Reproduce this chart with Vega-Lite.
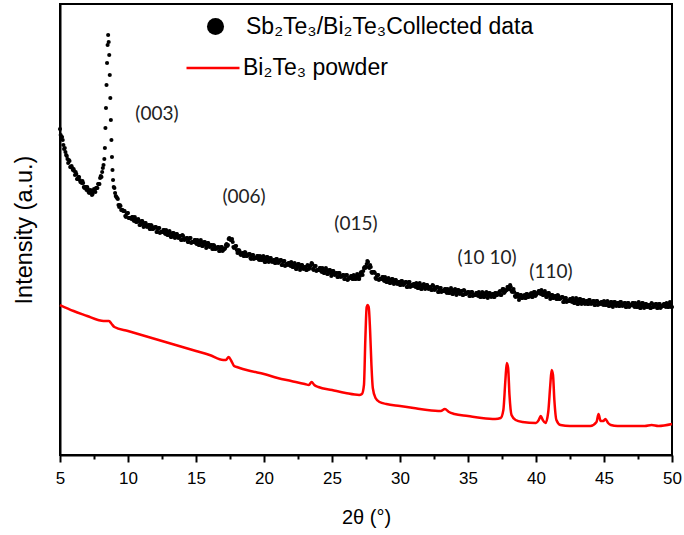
{
"$schema":"https://vega.github.io/schema/vega-lite/v6.json",
"width":612,"height":451,
"autosize":{"type":"none"},
"padding":{"left":60,"top":4,"right":12,"bottom":80},
"background":"white",
"config":{"view":{"stroke":"black","strokeWidth":2},"legend":{"padding":0,"offset":0,"labelLimit":600}},
"datasets":{
"xrd":[
{"x":5.0,"y":326},{"x":5.1,"y":318},{"x":5.2,"y":315},{"x":5.3,"y":306},{"x":5.4,"y":303},{"x":5.5,"y":299},{"x":5.6,"y":292},{"x":5.7,"y":294},{"x":5.8,"y":288},{"x":5.9,"y":287},
{"x":6.0,"y":286},{"x":6.1,"y":280},{"x":6.2,"y":281},{"x":6.3,"y":276},{"x":6.4,"y":278},{"x":6.5,"y":273},{"x":6.6,"y":272},{"x":6.7,"y":272},{"x":6.8,"y":267},{"x":6.9,"y":268},
{"x":7.0,"y":268},{"x":7.1,"y":263},{"x":7.2,"y":263},{"x":7.3,"y":264},{"x":7.4,"y":261},{"x":7.5,"y":266},{"x":7.6,"y":263},{"x":7.7,"y":267},{"x":7.8,"y":271},{"x":7.9,"y":271},
{"x":8.0,"y":279},{"x":8.1,"y":283},{"x":8.2,"y":290},{"x":8.26,"y":296},{"x":8.30,"y":307},{"x":8.34,"y":327},{"x":8.38,"y":347},{"x":8.42,"y":370},{"x":8.46,"y":392},{"x":8.50,"y":410},
{"x":8.54,"y":420},{"x":8.58,"y":413},{"x":8.62,"y":400},{"x":8.66,"y":380},{"x":8.70,"y":357},{"x":8.74,"y":335},{"x":8.78,"y":315},{"x":8.82,"y":298},{"x":8.86,"y":285},{"x":8.90,"y":275},{"x":8.95,"y":268},
{"x":9.0,"y":267},{"x":9.1,"y":259},{"x":9.2,"y":257},{"x":9.3,"y":250},{"x":9.4,"y":250},{"x":9.5,"y":245},{"x":9.6,"y":245},{"x":9.7,"y":244},{"x":9.8,"y":239},{"x":9.9,"y":241},
{"x":10.0,"y":242},{"x":10.1,"y":237},{"x":10.2,"y":237},{"x":10.3,"y":238},{"x":10.4,"y":235},{"x":10.5,"y":238},{"x":10.6,"y":233},{"x":10.7,"y":234},{"x":10.8,"y":234},{"x":10.9,"y":230},
{"x":11.0,"y":234},{"x":11.1,"y":231},{"x":11.2,"y":231},{"x":11.3,"y":232},{"x":11.4,"y":228},{"x":11.5,"y":230},{"x":11.6,"y":226},{"x":11.7,"y":230},{"x":11.8,"y":226},{"x":11.9,"y":227},
{"x":12.0,"y":228},{"x":12.1,"y":223},{"x":12.2,"y":226},{"x":12.3,"y":227},{"x":12.4,"y":223},{"x":12.5,"y":223},{"x":12.6,"y":225},{"x":12.7,"y":222},{"x":12.8,"y":225},{"x":12.9,"y":220},
{"x":13.0,"y":222},{"x":13.1,"y":222},{"x":13.2,"y":218},{"x":13.3,"y":222},{"x":13.4,"y":219},{"x":13.5,"y":220},{"x":13.6,"y":221},{"x":13.7,"y":217},{"x":13.8,"y":219},{"x":13.9,"y":215},
{"x":14.0,"y":220},{"x":14.1,"y":216},{"x":14.2,"y":216},{"x":14.3,"y":217},{"x":14.4,"y":213},{"x":14.5,"y":216},{"x":14.6,"y":217},{"x":14.7,"y":213},{"x":14.8,"y":213},{"x":14.9,"y":215},
{"x":15.0,"y":212},{"x":15.1,"y":215},{"x":15.2,"y":210},{"x":15.3,"y":212},{"x":15.4,"y":213},{"x":15.5,"y":209},{"x":15.6,"y":213},{"x":15.7,"y":210},{"x":15.8,"y":210},{"x":15.9,"y":212},
{"x":16.0,"y":208},{"x":16.1,"y":210},{"x":16.2,"y":206},{"x":16.3,"y":210},{"x":16.4,"y":206},{"x":16.5,"y":207},{"x":16.6,"y":208},{"x":16.7,"y":204},{"x":16.8,"y":207},{"x":16.9,"y":208},
{"x":17.0,"y":205},{"x":17.1,"y":206},{"x":17.2,"y":210},{"x":17.3,"y":209},{"x":17.4,"y":216},{"x":17.5,"y":216},{"x":17.6,"y":215},{"x":17.7,"y":213},{"x":17.8,"y":207},{"x":17.9,"y":209},
{"x":18.0,"y":205},{"x":18.1,"y":204},{"x":18.2,"y":204},{"x":18.3,"y":200},{"x":18.4,"y":202},{"x":18.5,"y":199},{"x":18.6,"y":203},{"x":18.7,"y":199},{"x":18.8,"y":200},{"x":18.9,"y":201},
{"x":19.0,"y":197},{"x":19.1,"y":199},{"x":19.2,"y":200},{"x":19.3,"y":197},{"x":19.4,"y":197},{"x":19.5,"y":199},{"x":19.6,"y":196},{"x":19.7,"y":199},{"x":19.8,"y":195},{"x":19.9,"y":196},
{"x":20.0,"y":197},{"x":20.1,"y":193},{"x":20.2,"y":198},{"x":20.3,"y":195},{"x":20.4,"y":196},{"x":20.5,"y":197},{"x":20.6,"y":193},{"x":20.7,"y":195},{"x":20.8,"y":192},{"x":20.9,"y":196},
{"x":21.0,"y":193},{"x":21.1,"y":193},{"x":21.2,"y":195},{"x":21.3,"y":190},{"x":21.4,"y":193},{"x":21.5,"y":194},{"x":21.6,"y":190},{"x":21.7,"y":191},{"x":21.8,"y":192},{"x":21.9,"y":190},
{"x":22.0,"y":193},{"x":22.1,"y":188},{"x":22.2,"y":190},{"x":22.3,"y":190},{"x":22.4,"y":186},{"x":22.5,"y":191},{"x":22.6,"y":188},{"x":22.7,"y":188},{"x":22.8,"y":190},{"x":22.9,"y":186},
{"x":23.0,"y":188},{"x":23.1,"y":185},{"x":23.2,"y":190},{"x":23.3,"y":186},{"x":23.4,"y":189},{"x":23.5,"y":192},{"x":23.6,"y":186},{"x":23.7,"y":188},{"x":23.8,"y":189},{"x":23.9,"y":185},
{"x":24.0,"y":185},{"x":24.1,"y":187},{"x":24.2,"y":184},{"x":24.3,"y":187},{"x":24.4,"y":182},{"x":24.5,"y":184},{"x":24.6,"y":185},{"x":24.7,"y":181},{"x":24.8,"y":185},{"x":24.9,"y":182},
{"x":25.0,"y":182},{"x":25.1,"y":184},{"x":25.2,"y":180},{"x":25.3,"y":182},{"x":25.4,"y":178},{"x":25.5,"y":182},{"x":25.6,"y":179},{"x":25.7,"y":179},{"x":25.8,"y":180},{"x":25.9,"y":176},
{"x":26.0,"y":179},{"x":26.1,"y":180},{"x":26.2,"y":176},{"x":26.3,"y":177},{"x":26.4,"y":179},{"x":26.5,"y":176},{"x":26.6,"y":180},{"x":26.7,"y":176},{"x":26.8,"y":178},{"x":26.9,"y":179},
{"x":27.0,"y":176},{"x":27.1,"y":182},{"x":27.2,"y":181},{"x":27.3,"y":184},{"x":27.4,"y":188},{"x":27.5,"y":188},{"x":27.6,"y":194},{"x":27.7,"y":188},{"x":27.8,"y":190},{"x":27.9,"y":183},
{"x":28.0,"y":183},{"x":28.1,"y":183},{"x":28.2,"y":177},{"x":28.3,"y":179},{"x":28.4,"y":180},{"x":28.5,"y":176},{"x":28.6,"y":176},{"x":28.7,"y":178},{"x":28.8,"y":175},{"x":28.9,"y":178},
{"x":29.0,"y":173},{"x":29.1,"y":175},{"x":29.2,"y":175},{"x":29.3,"y":172},{"x":29.4,"y":176},{"x":29.5,"y":173},{"x":29.6,"y":174},{"x":29.7,"y":175},{"x":29.8,"y":171},{"x":29.9,"y":173},
{"x":30.0,"y":170},{"x":30.1,"y":174},{"x":30.2,"y":171},{"x":30.3,"y":171},{"x":30.4,"y":173},{"x":30.5,"y":168},{"x":30.6,"y":171},{"x":30.7,"y":173},{"x":30.8,"y":169},{"x":30.9,"y":170},
{"x":31.0,"y":171},{"x":31.1,"y":169},{"x":31.2,"y":172},{"x":31.3,"y":167},{"x":31.4,"y":169},{"x":31.5,"y":170},{"x":31.6,"y":166},{"x":31.7,"y":170},{"x":31.8,"y":168},{"x":31.9,"y":169},
{"x":32.0,"y":170},{"x":32.1,"y":166},{"x":32.2,"y":168},{"x":32.3,"y":165},{"x":32.4,"y":170},{"x":32.5,"y":166},{"x":32.6,"y":166},{"x":32.7,"y":168},{"x":32.8,"y":163},{"x":32.9,"y":166},
{"x":33.0,"y":167},{"x":33.1,"y":164},{"x":33.2,"y":164},{"x":33.3,"y":166},{"x":33.4,"y":163},{"x":33.5,"y":166},{"x":33.6,"y":162},{"x":33.7,"y":164},{"x":33.8,"y":165},{"x":33.9,"y":161},
{"x":34.0,"y":165},{"x":34.1,"y":163},{"x":34.2,"y":163},{"x":34.3,"y":165},{"x":34.4,"y":161},{"x":34.5,"y":164},{"x":34.6,"y":160},{"x":34.7,"y":165},{"x":34.8,"y":161},{"x":34.9,"y":162},
{"x":35.0,"y":163},{"x":35.1,"y":159},{"x":35.2,"y":162},{"x":35.3,"y":163},{"x":35.4,"y":160},{"x":35.5,"y":160},{"x":35.6,"y":162},{"x":35.7,"y":160},{"x":35.8,"y":163},{"x":35.9,"y":158},
{"x":36.0,"y":160},{"x":36.1,"y":161},{"x":36.2,"y":158},{"x":36.3,"y":162},{"x":36.4,"y":160},{"x":36.5,"y":160},{"x":36.6,"y":162},{"x":36.7,"y":158},{"x":36.8,"y":161},{"x":36.9,"y":158},
{"x":37.0,"y":162},{"x":37.1,"y":160},{"x":37.2,"y":161},{"x":37.3,"y":163},{"x":37.4,"y":160},{"x":37.5,"y":164},{"x":37.6,"y":166},{"x":37.7,"y":163},{"x":37.8,"y":165},{"x":37.9,"y":168},
{"x":38.0,"y":166},{"x":38.1,"y":170},{"x":38.2,"y":164},{"x":38.3,"y":164},{"x":38.4,"y":163},{"x":38.5,"y":158},{"x":38.6,"y":161},{"x":38.7,"y":158},{"x":38.8,"y":158},{"x":38.9,"y":160},
{"x":39.0,"y":157},{"x":39.1,"y":159},{"x":39.2,"y":157},{"x":39.3,"y":161},{"x":39.4,"y":158},{"x":39.5,"y":159},{"x":39.6,"y":161},{"x":39.7,"y":158},{"x":39.8,"y":161},{"x":39.9,"y":163},
{"x":40.0,"y":160},{"x":40.1,"y":162},{"x":40.2,"y":164},{"x":40.3,"y":162},{"x":40.4,"y":165},{"x":40.5,"y":160},{"x":40.6,"y":161},{"x":40.7,"y":162},{"x":40.8,"y":158},{"x":40.9,"y":162},
{"x":41.0,"y":159},{"x":41.1,"y":159},{"x":41.2,"y":160},{"x":41.3,"y":157},{"x":41.4,"y":159},{"x":41.5,"y":156},{"x":41.6,"y":160},{"x":41.7,"y":156},{"x":41.8,"y":157},{"x":41.9,"y":158},
{"x":42.0,"y":153},{"x":42.1,"y":156},{"x":42.2,"y":157},{"x":42.3,"y":154},{"x":42.4,"y":154},{"x":42.5,"y":156},{"x":42.6,"y":154},{"x":42.7,"y":157},{"x":42.8,"y":152},{"x":42.9,"y":154},
{"x":43.0,"y":155},{"x":43.1,"y":151},{"x":43.2,"y":156},{"x":43.3,"y":153},{"x":43.4,"y":154},{"x":43.5,"y":155},{"x":43.6,"y":151},{"x":43.7,"y":154},{"x":43.8,"y":151},{"x":43.9,"y":155},
{"x":44.0,"y":152},{"x":44.1,"y":152},{"x":44.2,"y":154},{"x":44.3,"y":150},{"x":44.4,"y":153},{"x":44.5,"y":154},{"x":44.6,"y":151},{"x":44.7,"y":152},{"x":44.8,"y":153},{"x":44.9,"y":151},
{"x":45.0,"y":154},{"x":45.1,"y":150},{"x":45.2,"y":151},{"x":45.3,"y":152},{"x":45.4,"y":149},{"x":45.5,"y":153},{"x":45.6,"y":150},{"x":45.7,"y":151},{"x":45.8,"y":153},{"x":45.9,"y":149},
{"x":46.0,"y":152},{"x":46.1,"y":149},{"x":46.2,"y":153},{"x":46.3,"y":150},{"x":46.4,"y":150},{"x":46.5,"y":152},{"x":46.6,"y":148},{"x":46.7,"y":151},{"x":46.8,"y":152},{"x":46.9,"y":149},
{"x":47.0,"y":150},{"x":47.1,"y":152},{"x":47.2,"y":149},{"x":47.3,"y":152},{"x":47.4,"y":148},{"x":47.5,"y":150},{"x":47.6,"y":151},{"x":47.7,"y":147},{"x":47.8,"y":152},{"x":47.9,"y":149},
{"x":48.0,"y":150},{"x":48.1,"y":151},{"x":48.2,"y":148},{"x":48.3,"y":150},{"x":48.4,"y":147},{"x":48.5,"y":152},{"x":48.6,"y":148},{"x":48.7,"y":149},{"x":48.8,"y":151},{"x":48.9,"y":147},
{"x":49.0,"y":150},{"x":49.1,"y":151},{"x":49.2,"y":148},{"x":49.3,"y":149},{"x":49.4,"y":151},{"x":49.5,"y":149},{"x":49.6,"y":152},{"x":49.7,"y":148},{"x":49.8,"y":150},{"x":49.9,"y":151},
{"x":50.0,"y":148},
{"x":5.05,"y":320},{"x":5.15,"y":318},{"x":5.25,"y":310},{"x":5.35,"y":307},{"x":5.45,"y":300},{"x":5.55,"y":296},{"x":5.65,"y":295},{"x":5.75,"y":288},{"x":5.85,"y":289},{"x":5.95,"y":285},
{"x":6.05,"y":284},{"x":6.15,"y":283},{"x":6.25,"y":276},{"x":6.35,"y":278},{"x":6.45,"y":275},{"x":6.55,"y":273},{"x":6.65,"y":274},{"x":6.75,"y":268},{"x":6.85,"y":268},{"x":6.95,"y":265},
{"x":7.05,"y":266},{"x":7.15,"y":262},{"x":7.25,"y":265},{"x":7.35,"y":260},{"x":7.45,"y":264},{"x":7.55,"y":264},{"x":7.65,"y":267},{"x":7.75,"y":267},{"x":7.85,"y":271},{"x":7.95,"y":277},
{"x":8.05,"y":278},{"x":8.15,"y":287},
{"x":9.05,"y":262},{"x":9.15,"y":258},{"x":9.25,"y":256},{"x":9.35,"y":248},{"x":9.45,"y":249},{"x":9.55,"y":245},{"x":9.65,"y":244},{"x":9.75,"y":244},{"x":9.85,"y":238},{"x":9.95,"y":242},
{"x":10.05,"y":237},{"x":10.15,"y":237},{"x":10.25,"y":236},{"x":10.35,"y":238},{"x":10.45,"y":234},{"x":10.55,"y":236},{"x":10.65,"y":233},{"x":10.75,"y":236},{"x":10.85,"y":230},{"x":10.95,"y":232},
{"x":11.05,"y":234},{"x":11.15,"y":228},{"x":11.25,"y":232},{"x":11.35,"y":229},{"x":11.45,"y":229},{"x":11.55,"y":230},{"x":11.65,"y":226},{"x":11.75,"y":229},{"x":11.85,"y":226},{"x":11.95,"y":227},
{"x":12.05,"y":228},{"x":12.15,"y":223},{"x":12.25,"y":227},{"x":12.35,"y":222},{"x":12.45,"y":223},{"x":12.55,"y":223},{"x":12.65,"y":225},{"x":12.75,"y":221},{"x":12.85,"y":223},{"x":12.95,"y":220},
{"x":13.05,"y":224},{"x":13.15,"y":218},{"x":13.25,"y":220},{"x":13.35,"y":222},{"x":13.45,"y":217},{"x":13.55,"y":221},{"x":13.65,"y":218},{"x":13.75,"y":218},{"x":13.85,"y":219},{"x":13.95,"y":215},
{"x":14.05,"y":219},{"x":14.15,"y":215},{"x":14.25,"y":216},{"x":14.35,"y":217},{"x":14.45,"y":213},{"x":14.55,"y":217},{"x":14.65,"y":212},{"x":14.75,"y":213},{"x":14.85,"y":213},{"x":14.95,"y":215},
{"x":15.05,"y":211},{"x":15.15,"y":213},{"x":15.25,"y":210},{"x":15.35,"y":215},{"x":15.45,"y":209},{"x":15.55,"y":211},{"x":15.65,"y":213},{"x":15.75,"y":207},{"x":15.85,"y":212},{"x":15.95,"y":209},
{"x":16.05,"y":209},{"x":16.15,"y":210},{"x":16.25,"y":206},{"x":16.35,"y":209},{"x":16.45,"y":206},{"x":16.55,"y":207},{"x":16.65,"y":208},{"x":16.75,"y":204},{"x":16.85,"y":208},{"x":16.95,"y":204},
{"x":17.05,"y":206},{"x":17.15,"y":207},{"x":17.25,"y":211},{"x":17.35,"y":210},{"x":17.45,"y":217},{"x":17.55,"y":215},{"x":17.65,"y":216},{"x":17.75,"y":208},{"x":17.85,"y":208},{"x":17.95,"y":209},
{"x":18.05,"y":202},{"x":18.15,"y":205},{"x":18.25,"y":201},{"x":18.35,"y":201},{"x":18.45,"y":202},{"x":18.55,"y":199},{"x":18.65,"y":202},{"x":18.75,"y":199},{"x":18.85,"y":200},{"x":18.95,"y":201},
{"x":19.05,"y":196},{"x":19.15,"y":200},{"x":19.25,"y":196},{"x":19.35,"y":197},{"x":19.45,"y":197},{"x":19.55,"y":199},{"x":19.65,"y":195},{"x":19.75,"y":198},{"x":19.85,"y":195},{"x":19.95,"y":199},
{"x":20.05,"y":193},{"x":20.15,"y":195},{"x":20.25,"y":198},{"x":20.35,"y":193},{"x":20.45,"y":197},{"x":20.55,"y":194},{"x":20.65,"y":194},{"x":20.75,"y":195},{"x":20.85,"y":192},{"x":20.95,"y":196},
{"x":21.05,"y":192},{"x":21.15,"y":194},{"x":21.25,"y":195},{"x":21.35,"y":190},{"x":21.45,"y":194},{"x":21.55,"y":189},{"x":21.65,"y":191},{"x":21.75,"y":190},{"x":21.85,"y":192},{"x":21.95,"y":189},
{"x":22.05,"y":191},{"x":22.15,"y":188},{"x":22.25,"y":192},{"x":22.35,"y":186},{"x":22.45,"y":188},{"x":22.55,"y":191},{"x":22.65,"y":185},{"x":22.75,"y":190},{"x":22.85,"y":187},{"x":22.95,"y":187},
{"x":23.05,"y":188},{"x":23.15,"y":185},{"x":23.25,"y":189},{"x":23.35,"y":187},{"x":23.45,"y":190},{"x":23.55,"y":191},{"x":23.65,"y":185},{"x":23.75,"y":189},{"x":23.85,"y":184},{"x":23.95,"y":185},
{"x":24.05,"y":185},{"x":24.15,"y":187},{"x":24.25,"y":183},{"x":24.35,"y":185},{"x":24.45,"y":182},{"x":24.55,"y":187},{"x":24.65,"y":181},{"x":24.75,"y":183},{"x":24.85,"y":185},{"x":24.95,"y":179},
{"x":25.05,"y":184},{"x":25.15,"y":181},{"x":25.25,"y":181},{"x":25.35,"y":182},{"x":25.45,"y":178},{"x":25.55,"y":182},{"x":25.65,"y":178},{"x":25.75,"y":179},{"x":25.85,"y":180},{"x":25.95,"y":176},
{"x":26.05,"y":180},{"x":26.15,"y":175},{"x":26.25,"y":177},{"x":26.35,"y":177},{"x":26.45,"y":179},{"x":26.55,"y":176},{"x":26.65,"y":179},{"x":26.75,"y":176},{"x":26.85,"y":181},{"x":26.95,"y":176},
{"x":27.05,"y":179},{"x":27.15,"y":183},{"x":27.25,"y":180},{"x":27.35,"y":187},{"x":27.45,"y":187},{"x":27.55,"y":191},{"x":27.65,"y":193},{"x":27.75,"y":187},{"x":27.85,"y":188},{"x":27.95,"y":182},
{"x":28.05,"y":183},{"x":28.15,"y":182},{"x":28.25,"y":176},{"x":28.35,"y":180},{"x":28.45,"y":175},{"x":28.55,"y":176},{"x":28.65,"y":176},{"x":28.75,"y":178},{"x":28.85,"y":174},{"x":28.95,"y":176},
{"x":29.05,"y":173},{"x":29.15,"y":177},{"x":29.25,"y":172},{"x":29.35,"y":174},{"x":29.45,"y":176},{"x":29.55,"y":171},{"x":29.65,"y":175},{"x":29.75,"y":172},{"x":29.85,"y":172},{"x":29.95,"y":173},
{"x":30.05,"y":170},{"x":30.15,"y":174},{"x":30.25,"y":170},{"x":30.35,"y":172},{"x":30.45,"y":173},{"x":30.55,"y":168},{"x":30.65,"y":173},{"x":30.75,"y":168},{"x":30.85,"y":170},{"x":30.95,"y":169},
{"x":31.05,"y":171},{"x":31.15,"y":168},{"x":31.25,"y":170},{"x":31.35,"y":167},{"x":31.45,"y":172},{"x":31.55,"y":166},{"x":31.65,"y":168},{"x":31.75,"y":171},{"x":31.85,"y":166},{"x":31.95,"y":170},
{"x":32.05,"y":167},{"x":32.15,"y":167},{"x":32.25,"y":168},{"x":32.35,"y":165},{"x":32.45,"y":169},{"x":32.55,"y":165},{"x":32.65,"y":167},{"x":32.75,"y":168},{"x":32.85,"y":163},{"x":32.95,"y":167},
{"x":33.05,"y":163},{"x":33.15,"y":164},{"x":33.25,"y":164},{"x":33.35,"y":166},{"x":33.45,"y":162},{"x":33.55,"y":165},{"x":33.65,"y":162},{"x":33.75,"y":167},{"x":33.85,"y":161},{"x":33.95,"y":163},
{"x":34.05,"y":166},{"x":34.15,"y":160},{"x":34.25,"y":165},{"x":34.35,"y":162},{"x":34.45,"y":163},{"x":34.55,"y":164},{"x":34.65,"y":160},{"x":34.75,"y":164},{"x":34.85,"y":161},{"x":34.95,"y":162},
{"x":35.05,"y":163},{"x":35.15,"y":159},{"x":35.25,"y":163},{"x":35.35,"y":159},{"x":35.45,"y":160},{"x":35.55,"y":160},{"x":35.65,"y":162},{"x":35.75,"y":159},{"x":35.85,"y":161},{"x":35.95,"y":158},
{"x":36.05,"y":163},{"x":36.15,"y":158},{"x":36.25,"y":160},{"x":36.35,"y":163},{"x":36.45,"y":157},{"x":36.55,"y":162},{"x":36.65,"y":159},{"x":36.75,"y":160},{"x":36.85,"y":161},{"x":36.95,"y":158},
{"x":37.05,"y":162},{"x":37.15,"y":160},{"x":37.25,"y":162},{"x":37.35,"y":164},{"x":37.45,"y":160},{"x":37.55,"y":166},{"x":37.65,"y":162},{"x":37.75,"y":164},{"x":37.85,"y":165},{"x":37.95,"y":168},
{"x":38.05,"y":166},{"x":38.15,"y":168},{"x":38.25,"y":163},{"x":38.35,"y":166},{"x":38.45,"y":159},{"x":38.55,"y":159},{"x":38.65,"y":161},{"x":38.75,"y":155},{"x":38.85,"y":160},{"x":38.95,"y":157},
{"x":39.05,"y":158},{"x":39.15,"y":160},{"x":39.25,"y":157},{"x":39.35,"y":161},{"x":39.45,"y":158},{"x":39.55,"y":160},{"x":39.65,"y":162},{"x":39.75,"y":158},{"x":39.85,"y":163},{"x":39.95,"y":159},
{"x":40.05,"y":161},{"x":40.15,"y":162},{"x":40.25,"y":164},{"x":40.35,"y":161},{"x":40.45,"y":163},{"x":40.55,"y":160},{"x":40.65,"y":164},{"x":40.75,"y":158},{"x":40.85,"y":160},{"x":40.95,"y":162},
{"x":41.05,"y":156},{"x":41.15,"y":160},{"x":41.25,"y":157},{"x":41.35,"y":158},{"x":41.45,"y":159},{"x":41.55,"y":156},{"x":41.65,"y":159},{"x":41.75,"y":156},{"x":41.85,"y":157},{"x":41.95,"y":158},
{"x":42.05,"y":153},{"x":42.15,"y":157},{"x":42.25,"y":153},{"x":42.35,"y":154},{"x":42.45,"y":154},{"x":42.55,"y":156},{"x":42.65,"y":153},{"x":42.75,"y":155},{"x":42.85,"y":152},{"x":42.95,"y":157},
{"x":43.05,"y":151},{"x":43.15,"y":153},{"x":43.25,"y":156},{"x":43.35,"y":151},{"x":43.45,"y":155},{"x":43.55,"y":152},{"x":43.65,"y":153},{"x":43.75,"y":154},{"x":43.85,"y":151},{"x":43.95,"y":155},
{"x":44.05,"y":151},{"x":44.15,"y":153},{"x":44.25,"y":154},{"x":44.35,"y":150},{"x":44.45,"y":154},{"x":44.55,"y":150},{"x":44.65,"y":152},{"x":44.75,"y":151},{"x":44.85,"y":153},{"x":44.95,"y":150},
{"x":45.05,"y":153},{"x":45.15,"y":150},{"x":45.25,"y":154},{"x":45.35,"y":149},{"x":45.45,"y":151},{"x":45.55,"y":153},{"x":45.65,"y":148},{"x":45.75,"y":153},{"x":45.85,"y":150},{"x":45.95,"y":151},
{"x":46.05,"y":152},{"x":46.15,"y":149},{"x":46.25,"y":153},{"x":46.35,"y":149},{"x":46.45,"y":151},{"x":46.55,"y":152},{"x":46.65,"y":148},{"x":46.75,"y":152},{"x":46.85,"y":148},{"x":46.95,"y":150},
{"x":47.05,"y":150},{"x":47.15,"y":152},{"x":47.25,"y":148},{"x":47.35,"y":151},{"x":47.45,"y":148},{"x":47.55,"y":153},{"x":47.65,"y":147},{"x":47.75,"y":149},{"x":47.85,"y":152},{"x":47.95,"y":147},
{"x":48.05,"y":151},{"x":48.15,"y":148},{"x":48.25,"y":149},{"x":48.35,"y":150},{"x":48.45,"y":147},{"x":48.55,"y":151},{"x":48.65,"y":148},{"x":48.75,"y":150},{"x":48.85,"y":151},{"x":48.95,"y":147},
{"x":49.05,"y":151},{"x":49.15,"y":147},{"x":49.25,"y":149},{"x":49.35,"y":149},{"x":49.45,"y":151},{"x":49.55,"y":148},{"x":49.65,"y":151},{"x":49.75,"y":148},{"x":49.85,"y":153},{"x":49.95,"y":148}
],
"ref":[
{"x":5.0,"y":150},{"x":6.0,"y":144},{"x":7.0,"y":139},{"x":7.8,"y":135},{"x":8.2,"y":134},{"x":8.6,"y":134},{"x":8.8,"y":131},{"x":9.0,"y":128},{"x":10,"y":124},{"x":11,"y":120},
{"x":12,"y":116},{"x":13,"y":112},{"x":14,"y":108},{"x":15,"y":104},{"x":16,"y":100},{"x":17,"y":95},{"x":17.2,"y":95},{"x":17.4,"y":98},{"x":17.6,"y":94},{"x":17.8,"y":89},
{"x":18,"y":88},{"x":19,"y":84},{"x":20,"y":81},{"x":21,"y":77},{"x":22,"y":74},{"x":23,"y":71},{"x":23.3,"y":70},{"x":23.5,"y":73},{"x":23.7,"y":70},{"x":24,"y":68},
{"x":25,"y":65},{"x":26,"y":62},{"x":27,"y":60},{"x":27.2,"y":61},{"x":27.35,"y":70},{"x":27.45,"y":115},{"x":27.55,"y":148},{"x":27.62,"y":150},{"x":27.7,"y":148},{"x":27.8,"y":125},
{"x":27.9,"y":90},{"x":28.0,"y":67},{"x":28.2,"y":57},{"x":28.5,"y":53},{"x":29,"y":51},{"x":30,"y":49},{"x":31,"y":47},{"x":32,"y":45},{"x":33,"y":44},{"x":33.3,"y":46},
{"x":33.6,"y":43},{"x":34,"y":41},{"x":35,"y":39},{"x":36,"y":37},{"x":37,"y":36},{"x":37.4,"y":37},{"x":37.6,"y":45},{"x":37.75,"y":75},{"x":37.85,"y":92},{"x":37.95,"y":87},
{"x":38.05,"y":60},{"x":38.2,"y":40},{"x":38.5,"y":35},{"x":39,"y":33},{"x":40,"y":32},{"x":40.2,"y":35},{"x":40.35,"y":39},{"x":40.5,"y":35},{"x":40.7,"y":32},{"x":40.9,"y":43},
{"x":41.05,"y":70},{"x":41.15,"y":85},{"x":41.25,"y":80},{"x":41.35,"y":55},{"x":41.5,"y":35},{"x":41.8,"y":30},{"x":42.5,"y":29},{"x":43,"y":29},{"x":44,"y":29},{"x":44.45,"y":33},
{"x":44.6,"y":41},{"x":44.75,"y":34},{"x":44.95,"y":34},{"x":45.1,"y":36},{"x":45.3,"y":32},{"x":45.5,"y":30},{"x":46,"y":29},{"x":47,"y":29},{"x":48,"y":29},{"x":48.5,"y":30},
{"x":49,"y":29},{"x":50,"y":31}
],
"peaks":[
{"x":12.13,"y":341,"label":"(003)"},{"x":18.53,"y":258,"label":"(006)"},{"x":26.76,"y":231,"label":"(015)"},{"x":36.4,"y":197,"label":"(10 10)"},{"x":41.1,"y":183,"label":"(110)"}
]
},
"encoding":{
"x":{"field":"x","type":"quantitative","scale":{"domain":[5,50],"nice":false,"zero":false},
 "axis":{"title":"2θ (°)","values":[5,7.5,10,12.5,15,17.5,20,22.5,25,27.5,30,32.5,35,37.5,40,42.5,45,47.5,50],
 "labelExpr":"datum.value % 5 === 0 ? datum.label : ''","grid":false,"domainColor":"black","domainWidth":2,
 "tickColor":"black","tickWidth":2,"tickSize":{"condition":{"test":"datum.value % 5 === 0","value":7},"value":4},
 "labelFont":"Liberation Sans","labelFontSize":17,"labelColor":"black","labelPadding":8,"labelFlush":false,
 "titleFont":"Liberation Sans","titleFontSize":20,"titleFontWeight":"normal","titleColor":"black","titlePadding":21}},
"y":{"field":"y","type":"quantitative","scale":{"domain":[0,451],"nice":false,"zero":false},
 "axis":{"title":"Intensity (a.u.)","labels":false,"ticks":false,"grid":false,"domainColor":"black","domainWidth":2,
 "titleFont":"Liberation Sans","titleFontSize":23.5,"titleFontWeight":"normal","titleColor":"black","titlePadding":24}}
},
"layer":[
{"data":{"name":"xrd"},"mark":{"type":"point","filled":true,"size":17,"opacity":1},
 "encoding":{"color":{"datum":"Sb₂Te₃/Bi₂Te₃Collected data","scale":{"range":["black"]},
  "legend":{"orient":"none","legendX":144,"legendY":11,"title":null,"symbolType":"circle","symbolSize":290,"symbolStrokeWidth":0,"labelOffset":19,"labelFont":"Liberation Sans","labelFontSize":23,"labelColor":"black"}}}},
{"data":{"name":"ref"},"mark":{"type":"line","strokeWidth":2.5,"interpolate":"monotone"},
 "encoding":{"color":{"datum":"Bi₂Te₃ powder","scale":{"range":["#ff0000"]},
  "legend":{"orient":"none","legendX":125,"legendY":36,"title":null,"symbolType":"stroke","symbolSize":2809,"symbolStrokeWidth":2.5,"labelOffset":2,"labelFont":"Liberation Sans","labelFontSize":23,"labelColor":"black"}}}},
{"data":{"name":"peaks"},"mark":{"type":"text","font":"Lato","fontSize":19,"color":"#222222","align":"center","baseline":"middle"},
 "encoding":{"text":{"field":"label","type":"nominal"}}}
],
"resolve":{"scale":{"color":"independent"}}
}
